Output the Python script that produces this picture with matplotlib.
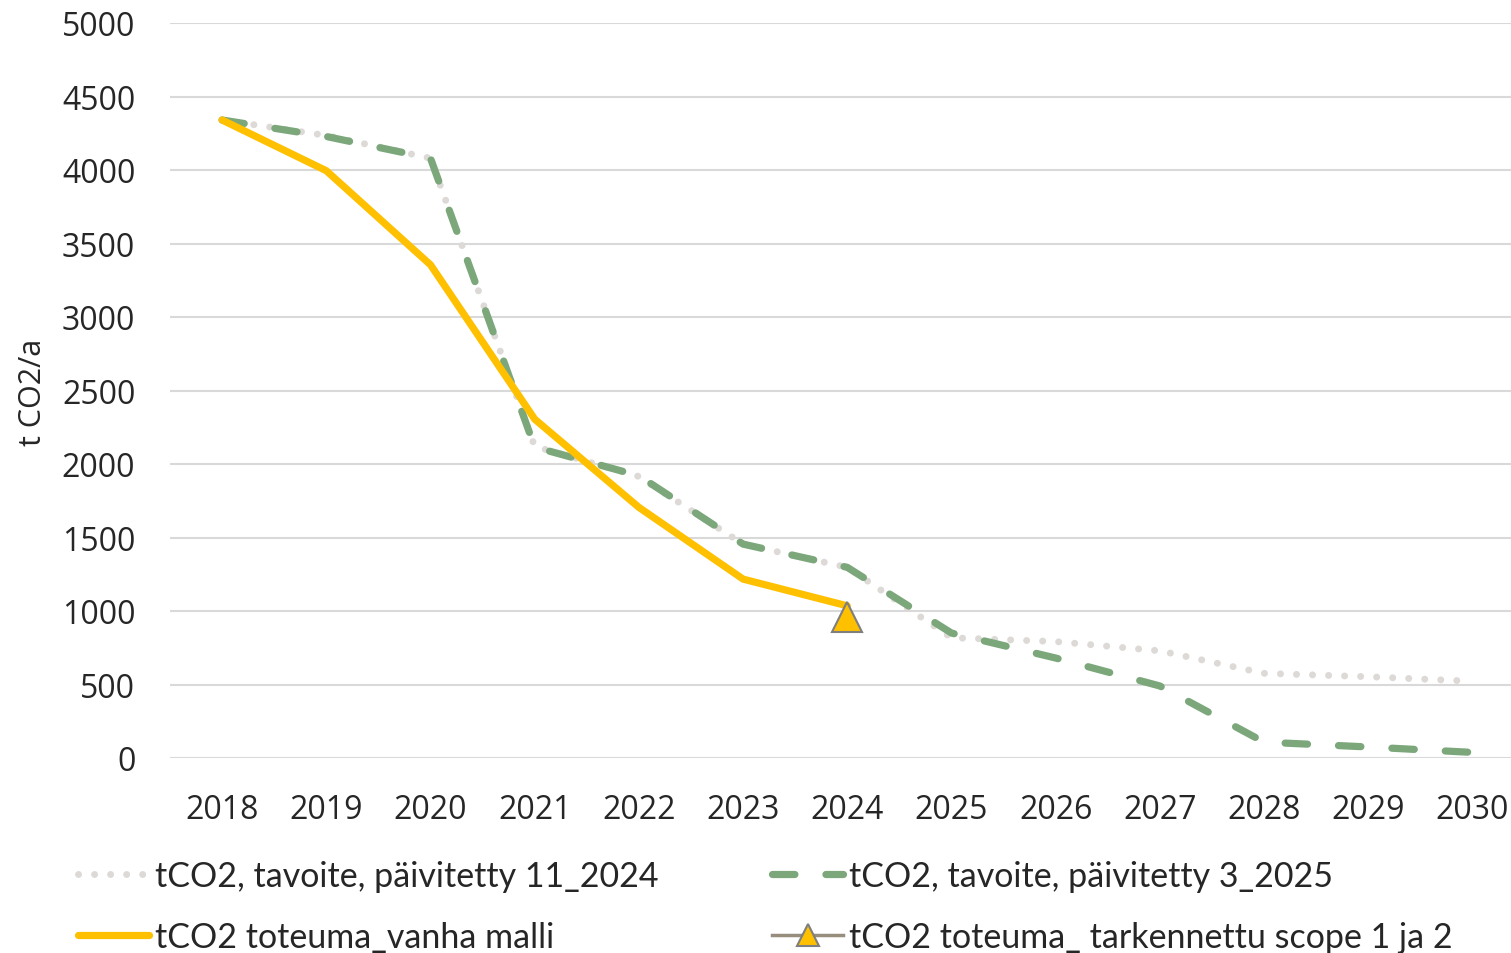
#!/usr/bin/env python3
"""CO2 reduction targets vs. actuals, 2018-2030."""

import matplotlib

matplotlib.use("Agg")
import matplotlib.pyplot as plt
from matplotlib.lines import Line2D

years = ["2018", "2019", "2020", "2021", "2022", "2023", "2024",
         "2025", "2026", "2027", "2028", "2029", "2030"]
target_11_2024 = [4340, 4235, 4080, 2120, 1915, 1455, 1297,
                  818, 792, 729, 576, 553, 522]
target_3_2025 = [4340, 4228, 4080, 2115, 1920, 1455, 1297,
                 850, 680, 490, 108, 75, 38]
actual_old = [4340, 3995, 3355, 2305, 1705, 1217, 1035]
actual_refined_years = ["2024"]
actual_refined = [960]

labels = [
    "tCO2, tavoite, päivitetty 11_2024",
    "tCO2, tavoite, päivitetty 3_2025",
    "tCO2 toteuma_vanha malli",
    "tCO2 toteuma_ tarkennettu scope 1 ja 2",
]

GREY = "#dcd9d6"
GREEN = "#7ba77b"
YELLOW = "#ffc000"
TAUPE = "#978e7d"
TICK_FONT = "Open Sans"
LEG_FONT = "Lato"

W, H = 1511, 954
fig = plt.figure(figsize=(W / 100, H / 100), dpi=100)
ax = fig.add_axes([170 / W, (H - 759) / H, (W - 170) / W, 735 / H])

x = list(range(len(years)))
idx = {y: i for i, y in enumerate(years)}

ax.plot(x, target_11_2024, color=GREY, lw=5, dashes=(0.01, 2.3),
        dash_capstyle="round", zorder=2)
ax.plot(x, target_3_2025, color=GREEN, lw=5.2, dashes=(3.1, 4.3),
        dash_capstyle="round", zorder=3)
ax.plot(x[:len(actual_old)], actual_old, color=YELLOW, lw=5.2,
        solid_capstyle="round", solid_joinstyle="miter", zorder=4)
ax.plot([idx[y] for y in actual_refined_years], actual_refined, color=TAUPE,
        lw=2.5, marker="^", ms=21, mfc=YELLOW, mec="#7f7f7f", mew=1.5,
        zorder=5)

ax.set_xlim(-0.5, 12.37)
ax.set_ylim(0, 5000)
ax.set_yticks(range(0, 5001, 500))
ax.set_xticks(x)
ax.set_xticklabels(years)
ax.grid(axis="y", color="#d9d9d9", lw=1.5)
ax.set_axisbelow(True)
for s in ax.spines.values():
    s.set_visible(False)
ax.tick_params(length=0, labelsize=23, colors="#262626")
ax.tick_params(axis="y", pad=25)
ax.tick_params(axis="x", pad=25)
for t in ax.get_xticklabels() + ax.get_yticklabels():
    t.set_fontfamily(TICK_FONT)

fig.text(33 / W, 1 - 392 / H, "t CO2/a", rotation=90, ha="center",
         va="center", fontsize=22, family=TICK_FONT, color="#262626")

h_grey = Line2D([], [], color=GREY, lw=5, dashes=(0.01, 2.3),
                dash_capstyle="round")
h_green = Line2D([], [], color=GREEN, lw=5.2, dashes=(3.1, 4.3),
                 dash_capstyle="round")
h_yellow = Line2D([], [], color=YELLOW, lw=5.2, solid_capstyle="round")
h_tri = Line2D([], [], color=TAUPE, lw=2.5, marker="^", ms=16, mfc=YELLOW,
               mec="#7f7f7f", mew=1.5)

leg_kw = dict(loc="upper left", frameon=False, handlelength=2.1,
              handletextpad=0.15, labelspacing=0.85, borderpad=0,
              borderaxespad=0, prop={"family": LEG_FONT, "size": 24.5})
fig.legend([h_grey, h_yellow], [labels[0], labels[2]],
           bbox_to_anchor=(78 / W, 1 - 861 / H), **leg_kw)
fig.legend([h_green, h_tri], [labels[1], labels[3]],
           bbox_to_anchor=(772 / W, 1 - 861 / H), **leg_kw)
for leg in fig.legends:
    for t in leg.get_texts():
        t.set_color("#262626")

fig.savefig("out.png", dpi=100)
print("Wrote out.png")
